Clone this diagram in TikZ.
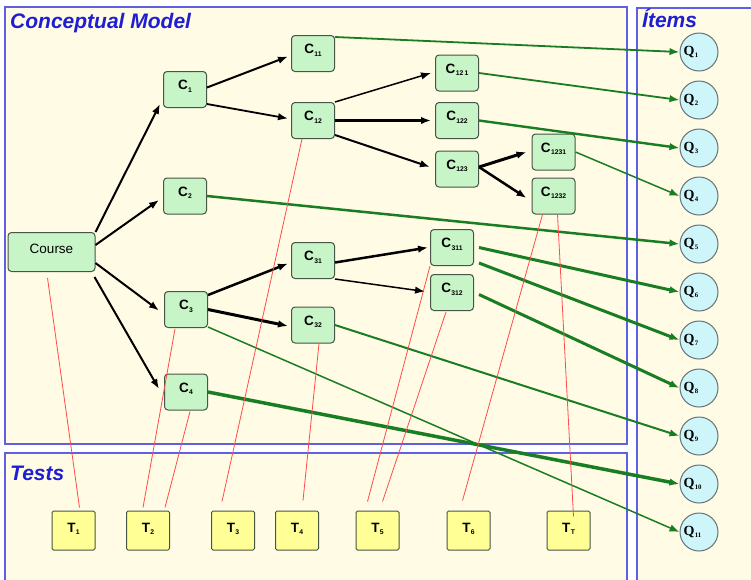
\documentclass[tikz,border=0pt]{standalone}
\usepackage{fontspec}
\setmainfont{Liberation Sans}
\newfontfamily\qfont{Liberation Serif}
\usetikzlibrary{arrows.meta,calc}

\definecolor{cream}{RGB}{255,251,228}
\definecolor{panelblue}{RGB}{95,95,225}
\definecolor{titleblue}{RGB}{30,30,210}
\definecolor{nodegreen}{RGB}{200,245,200}
\definecolor{nodeedge}{RGB}{70,85,70}
\definecolor{itemcyan}{RGB}{205,245,250}
\definecolor{itemedge}{RGB}{100,115,115}
\definecolor{testyellow}{RGB}{255,255,150}
\definecolor{linkgreen}{RGB}{25,125,35}
\definecolor{linkred}{RGB}{255,75,75}

% small lowered index used in the node labels
\newcommand\sbs[1]{\kern0.4pt\raisebox{-0.35ex}{\fontsize{6.8}{7}\selectfont #1}}

\tikzset{
  panel/.style={draw=panelblue, fill=cream, line width=1.4pt},
  paneltitle/.style={anchor=base west, inner sep=0pt, text=titleblue,
    font=\fontsize{21}{24}\selectfont\bfseries\itshape},
  concept/.style={draw=nodeedge, fill=nodegreen, line width=1pt,
    rounded corners=3.5pt, minimum width=43pt, minimum height=36pt,
    inner sep=0pt, text height=6pt, text depth=6pt,
    font=\fontsize{13.5}{15}\selectfont\bfseries},
  coursebox/.style={concept, minimum width=87pt, minimum height=39pt,
    text height=7pt, text depth=5pt, font=\fontsize{13.5}{15}\selectfont},
  testbox/.style={draw=nodeedge, fill=testyellow, line width=1pt,
    rounded corners=1.5pt, minimum width=43pt, minimum height=39pt,
    inner sep=0pt, text height=7pt, text depth=4pt,
    font=\fontsize{13.5}{15}\selectfont\bfseries},
  itemcircle/.style={circle, draw=itemedge, fill=itemcyan, line width=1pt,
    minimum size=38pt, inner sep=0pt,
    font=\qfont\fontsize{14}{15}\selectfont\bfseries},
  blk/.style={draw=black, line width=2pt, -{Latex[length=10pt,width=7.5pt]}},
  grn/.style={draw=linkgreen, line width=2pt, -{Latex[length=10pt,width=7.5pt]}},
  rline/.style={draw=linkred, line width=0.8pt},
}

\begin{document}
\begin{tikzpicture}[x=1pt, y=-1pt]
\useasboundingbox (0,0) rectangle (751,579);
\clip (0,0) rectangle (751,579);
\fill[white] (0,0) rectangle (751,579);

% panels
\draw[panel] (5,7) rectangle (627,444);
\draw[panel] (5,453) rectangle (627,600);
\draw[panel] (637,8) rectangle (780,600);

\node[paneltitle] (tcm) at (10,28) {Conceptual Model};
\node[paneltitle] (tts) at (10,480) {Tests};
\node[paneltitle] (tit) at (642,27) {Ítems};

% concept hierarchy
\node[coursebox] (Course) at (51.5,252) {Course};
\node[concept] (C1)    at (185,89.5)  {C\sbs{1}};
\node[concept] (C2)    at (185,196)   {C\sbs{2}};
\node[concept] (C3)    at (186,309.5) {C\sbs{3}};
\node[concept] (C4)    at (186,392)   {C\sbs{4}};
\node[concept] (C11)   at (313,53.5)  {C\sbs{11}};
\node[concept] (C12)   at (313,120.5) {C\sbs{12}};
\node[concept] (C121)  at (457,73)    {C\sbs{12\,1}};
\node[concept] (C122)  at (457,120.5) {C\sbs{122}};
\node[concept] (C123)  at (457,169)   {C\sbs{123}};
\node[concept] (C1231) at (553.5,152) {C\sbs{1231}};
\node[concept] (C1232) at (553.5,196) {C\sbs{1232}};
\node[concept] (C31)   at (313,260.5) {C\sbs{31}};
\node[concept] (C32)   at (313,325)   {C\sbs{32}};
\node[concept] (C311)  at (452,247.5) {C\sbs{311}};
\node[concept] (C312)  at (452,292.5) {C\sbs{312}};

% tests
\node[testbox] (T1) at (73.5,530.5)  {T\sbs{1}};
\node[testbox] (T2) at (148,530.5)   {T\sbs{2}};
\node[testbox] (T3) at (233,530.5)   {T\sbs{3}};
\node[testbox] (T4) at (297,530.5)   {T\sbs{4}};
\node[testbox] (T5) at (377.5,530.5) {T\sbs{5}};
\node[testbox] (T6) at (468.5,530.5) {T\sbs{6}};
\node[testbox] (T7) at (568.5,530.5) {T\sbs{T}};

% items: labels sit at the left of each circle
\foreach \i in {1,...,11}{
  \node[itemcircle] (Q\i) at (699,{52+48*(\i-1)})
    {\makebox[31pt][l]{Q\sbs{\i}}};
}

% concept -> sub-concept arrows
\draw[blk] (Course.north east) -- ($(C1.south west)+(-3,-4)$);
\draw[blk] ($(Course.east)+(0,-7)$) -- ($(C2.west)+(-4,4)$);
\draw[blk] ($(Course.east)+(0,11)$) -- ($(C3.west)+(-5,1)$);
\draw[blk] ($(Course.south east)+(-1,5)$) -- ($(C4.west)+(-5,-3)$);
\draw[blk] ($(C1.east)+(0,-2)$) -- ($(C11.west)+(-3,3)$);
\draw[blk, line width=1.8pt] ($(C1.south east)+(0,-4)$) -- ($(C12.west)+(-3,-2)$);
\draw[blk, line width=1.5pt] (C12.north east) -- ($(C121.west)+(-4,0)$);
\draw[blk, line width=3pt] (C12.east) -- ($(C122.west)+(-4,0)$);
\draw[blk] ($(C12.south east)+(0,-4)$) -- ($(C123.west)+(-5,-2)$);
\draw[blk, line width=3pt] ($(C123.east)+(0,-2)$) -- ($(C1231.west)+(-5,0)$);
\draw[blk, line width=2.5pt] ($(C123.east)+(0,-2)$) -- ($(C1232.west)+(-5,2)$);
\draw[blk, line width=2.5pt] ($(C3.north east)+(0,4)$) -- ($(C31.west)+(-3,3)$);
\draw[blk, line width=3pt] (C3.east) -- ($(C32.west)+(-3,1)$);
\draw[blk, line width=2.5pt] ($(C31.east)+(0,2)$) -- ($(C311.west)+(-2,0)$);
\draw[blk, line width=1.5pt] (C31.south east) -- ($(C312.west)+(-5,-1)$);

% concept -> item arrows
\draw[grn, line width=1.8pt] ($(C11.north east)+(0,2)$) -- (Q1.west);
\draw[grn, line width=1.8pt] (C121.east) -- (Q2.west);
\draw[grn, line width=2.4pt] (C122.east) -- (Q3.west);
\draw[grn, line width=1.5pt] (C1231.east) -- (Q4.west);
\draw[grn, line width=2.5pt] (C2.east) -- (Q5.west);
\draw[grn, line width=3pt] ($(C311.east)+(5,0)$) -- (Q6.west);
\draw[grn, line width=3pt] ($(C311.south east)+(5,-3)$) -- (Q7.west);
\draw[grn, line width=3pt] ($(C312.east)+(5,2)$) -- (Q8.west);
\draw[grn, line width=2pt] (C32.east) -- (Q9.west);
\draw[grn, line width=3.5pt] (C4.east) -- (Q10.west);
\draw[grn, line width=1.5pt] ($(C3.south east)+(0,-1)$) -- (Q11.west);

% test coverage lines
\draw[rline] ($(Course.south)+(-4,6)$) -- ($(T1.north)+(6,-3)$);
\draw[rline] ($(C3.south)+(-11,1)$) -- ($(T2.north)+(-5,-3)$);
\draw[rline] ($(C4.south)+(4,1)$) -- ($(T2.north)+(17,-3)$);
\draw[rline] ($(C12.south)+(-11,0)$) -- ($(T3.north)+(-11,-9)$);
\draw[rline] ($(C32.south)+(6,0)$) -- ($(T4.north)+(6,-10)$);
\draw[rline] (C311.south west) -- ($(T5.north)+(-10,-9)$);
\draw[rline] ($(C312.south)+(-6,1)$) -- ($(T5.north)+(5,-9)$);
\draw[rline] ($(C1232.south)+(-11,0)$) -- ($(T6.north)+(-6,-10)$);
\draw[rline] ($(C1232.south)+(4,0)$) -- ($(T7.north)+(5,6)$);
\end{tikzpicture}
\end{document}
